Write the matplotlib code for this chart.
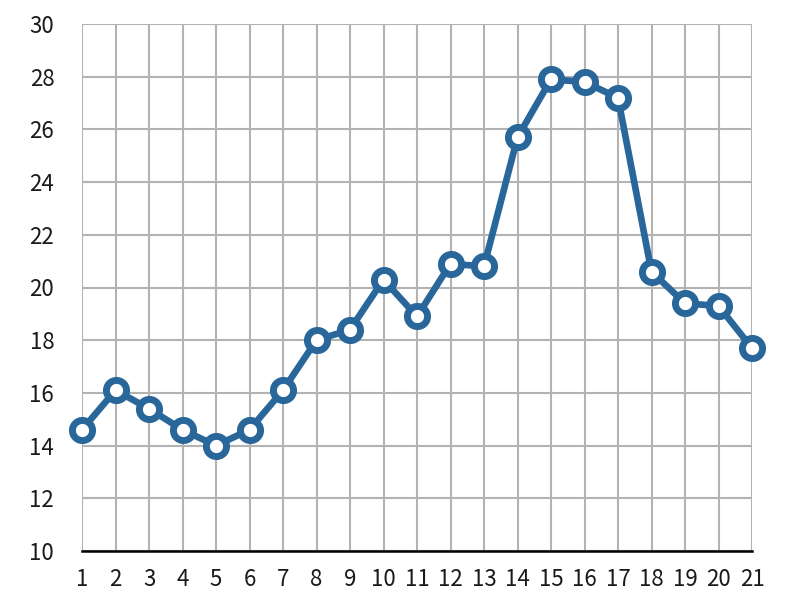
import matplotlib
matplotlib.use('Agg')
import matplotlib.pyplot as plt

plt.rcParams['font.family'] = ['Noto Sans CJK JP', 'DejaVu Sans']

x_values = list(range(1, 22))
y_values = [14.6, 16.1, 15.4, 14.6, 14.0, 14.6, 16.1, 18.0, 18.4, 20.3, 18.9,
            20.9, 20.8, 25.7, 27.9, 27.8, 27.2, 20.6, 19.4, 19.3, 17.7]
y_ticks = list(range(10, 31, 2))

fig = plt.figure(figsize=(7.85, 6.11), dpi=100)
ax = fig.add_axes([82 / 785, 1 - 551 / 611, 670 / 785, 527 / 611])

ax.plot(x_values, y_values, color='#29679b', linewidth=4.8,
        marker='o', markersize=14.5, markerfacecolor='white',
        markeredgecolor='#29679b', markeredgewidth=5,
        clip_on=False, zorder=5)

ax.set_xlim(1, 21)
ax.set_ylim(10, 30)
ax.set_xticks(x_values)
ax.set_yticks(y_ticks)
ax.grid(True, color='#b3b3b3', linewidth=1.5)
ax.set_axisbelow(True)

for s in ['left', 'right', 'top']:
    ax.spines[s].set_visible(False)
ax.spines['bottom'].set_color('black')
ax.spines['bottom'].set_linewidth(1.8)
ax.spines['bottom'].set_zorder(3)

ax.tick_params(length=0, labelsize=16, colors='#1a1a1a', pad=12)
ax.tick_params(axis='y', pad=20)

fig.savefig('out.png', dpi=100)
